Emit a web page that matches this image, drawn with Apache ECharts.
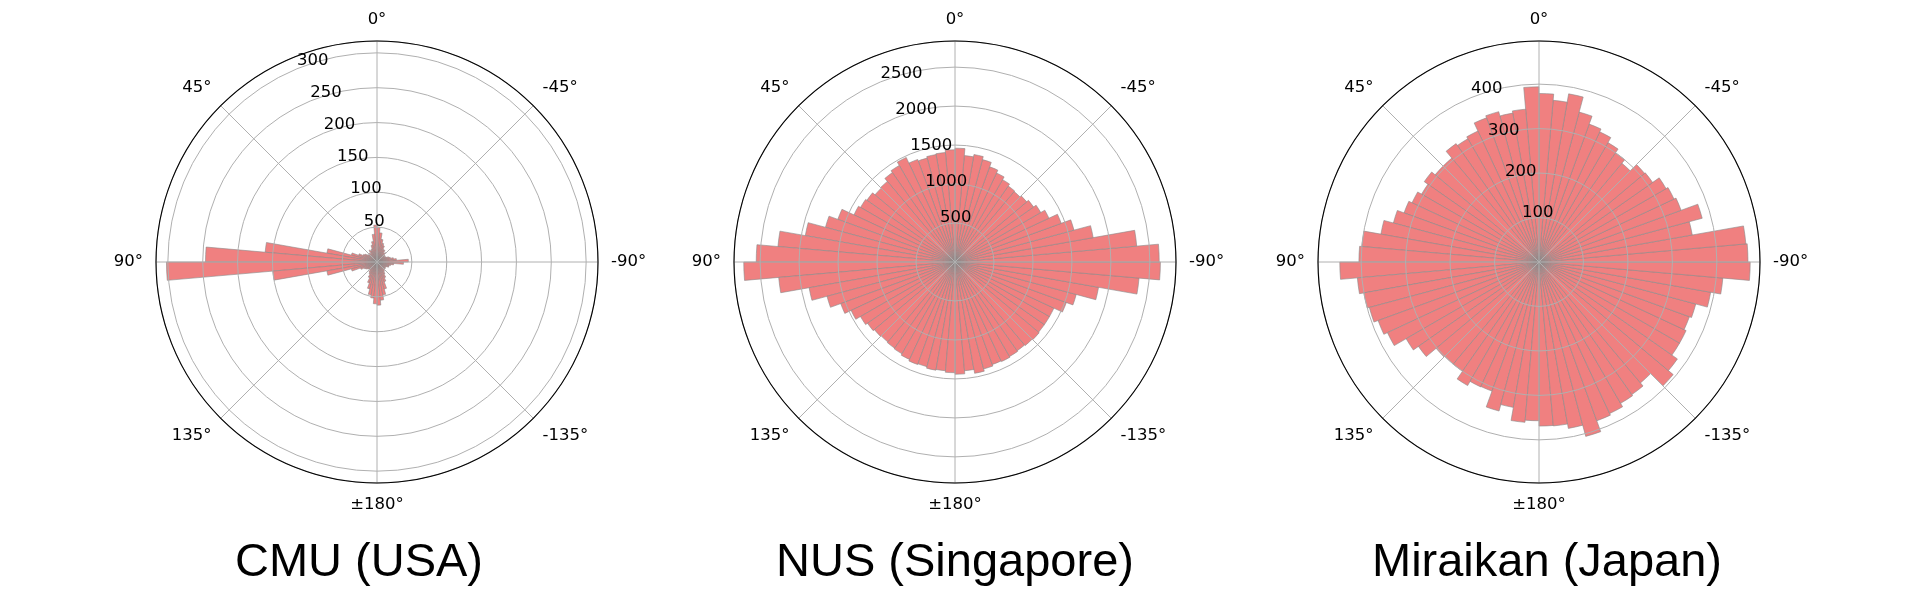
<!DOCTYPE html>
<html><head><meta charset="utf-8">
<script src="https://cdn.jsdelivr.net/npm/echarts@6/dist/echarts.min.js"></script>
<style>html,body{margin:0;padding:0;background:#fff}#c{width:1924px;height:604px}</style>
</head><body><div id="c"></div>
<script>
// ---- data ----
// histogram bins (start angle in degrees, 5-degree bins from -180 to 180)
const binStarts = [-180,-175,-170,-165,-160,-155,-150,-145,-140,-135,-130,-125,-120,-115,-110,-105,-100,-95,
  -90,-85,-80,-75,-70,-65,-60,-55,-50,-45,-40,-35,-30,-25,-20,-15,-10,-5,
  0,5,10,15,20,25,30,35,40,45,50,55,60,65,70,75,80,85,
  90,95,100,105,110,115,120,125,130,135,140,145,150,155,160,165,170,175];
const cmuCounts = [62,55,48,40,30,25,20,17,15,14,15,14,15,18,18,20,24,38,
  45,28,24,20,18,15,14,13,15,18,16,20,20,25,28,33,42,50,
  53,40,30,25,20,18,20,15,17,15,17,20,22,28,38,73,161,246,
  302,150,73,38,25,20,18,16,15,15,18,20,25,32,40,48,52,60];
const nusCounts = [1440,1400,1450,1420,1400,1410,1400,1390,1400,1410,1400,1400,1400,1520,1610,1870,2370,2635,
  2620,2340,1800,1580,1450,1330,1270,1230,1200,1180,1190,1220,1260,1300,1360,1400,1370,1460,
  1440,1410,1400,1380,1400,1480,1430,1400,1350,1340,1380,1400,1430,1600,1720,1950,2280,2550,
  2710,2270,1900,1700,1560,1470,1400,1370,1350,1340,1350,1360,1380,1400,1390,1410,1400,1420];
const miraikanCounts = [369,370,380,406,380,376,367,364,355,394,380,365,365,360,365,392,415,475,
  470,467,350,380,340,335,330,312,310,290,300,310,323,330,349,384,365,379,
  394,345,340,350,345,325,320,325,305,305,315,305,315,323,339,361,400,405,
  448,410,400,395,385,376,345,331,302,300,300,321,310,309,347,332,362,357];
const panelTitles = ['CMU (USA)', 'NUS (Singapore)', 'Miraikan (Japan)'];
const angleTickValues = [-180, -135, -90, -45, 0, 45, 90, 135];
const angleTickLabels = ['\u00b1180\u00b0', '-135\u00b0', '-90\u00b0', '-45\u00b0', '0\u00b0', '45\u00b0', '90\u00b0', '135\u00b0'];
const cmuRingTicks = [50, 100, 150, 200, 250, 300];
const nusRingTicks = [500, 1000, 1500, 2000, 2500];
const miraikanRingTicks = [100, 200, 300, 400];
const radiusMax = [317, 2835, 497];

// ---- layout ----
const CY = 262, R = 221;
const centersX = [377, 955, 1539];
const titleX = [359, 955, 1547];
const panelData = [cmuCounts, nusCounts, miraikanCounts];
const panelRings = [cmuRingTicks, nusRingTicks, miraikanRingTicks];

const polar = [], angleAxis = [], radiusAxis = [], series = [], graphic = [];
const labelFont = 'DejaVu Sans';
for (let i = 0; i < 3; i++) {
  const rings = panelRings[i];
  const step = rings[1] - rings[0];
  for (let k = 0; k < 3; k++) polar.push({ center: [centersX[i], CY], radius: R });
  const a = 3 * i, b = 3 * i + 1, c = 3 * i + 2;
  // bars polar
  angleAxis.push({ polarIndex: a, type: 'category', data: binStarts, startAngle: 270, clockwise: false,
    boundaryGap: true, axisLine: { show: false }, axisTick: { show: false }, axisLabel: { show: false }, splitLine: { show: false } });
  radiusAxis.push({ polarIndex: a, type: 'value', min: 0, max: radiusMax[i],
    axisLine: { show: false }, axisTick: { show: false }, axisLabel: { show: false }, splitLine: { show: false } });
  // grid polar
  angleAxis.push({ polarIndex: b, type: 'value', min: -180, max: 180, interval: 45, startAngle: 270, clockwise: false, z: 5,
    axisLine: { show: true, lineStyle: { color: '#000', width: 1.1 } }, axisTick: { show: false },
    axisLabel: { show: true, margin: 13, color: '#000', fontSize: 16.5, fontFamily: labelFont,
      formatter: v => { const j = angleTickValues.indexOf(v === 180 ? -180 : v); return j >= 0 ? angleTickLabels[j] : ''; } },
    splitLine: { show: true, lineStyle: { color: '#b0b0b0', width: 1 } } });
  radiusAxis.push({ polarIndex: b, type: 'value', min: 0, max: radiusMax[i], interval: step, z: 5,
    axisLine: { show: false }, axisTick: { show: false }, axisLabel: { show: false },
    splitLine: { show: true, lineStyle: { color: '#b0b0b0', width: 1 } } });
  // radius labels polar (22.5 deg)
  angleAxis.push({ polarIndex: c, type: 'value', min: 0, max: 360, startAngle: 112.5, show: false });
  radiusAxis.push({ polarIndex: c, type: 'value', min: 0, max: radiusMax[i], interval: step, z: 6,
    axisLine: { show: false }, axisTick: { show: false }, splitLine: { show: false },
    axisLabel: { show: true, margin: 0, align: 'left', verticalAlign: 'bottom', color: '#000', fontSize: 16.5, fontFamily: labelFont,
      formatter: v => rings.indexOf(v) >= 0 ? String(v) : '' } });
  series.push({ type: 'bar', coordinateSystem: 'polar', polarIndex: a, data: panelData[i], barCategoryGap: '0%', z: 2,
    itemStyle: { color: '#f08080', borderColor: '#8a8a8a', borderWidth: 0.6 } });
  graphic.push({ type: 'text', x: titleX[i], y: 563, z: 10,
    style: { text: panelTitles[i], fill: '#000', font: '47px "Liberation Sans", Arial, sans-serif', align: 'center', verticalAlign: 'middle' } });
}

const chart = echarts.init(document.getElementById('c'), null, { renderer: 'canvas' });
chart.setOption({ animation: false, backgroundColor: '#fff', polar, angleAxis, radiusAxis, series, graphic });
</script></body></html>
